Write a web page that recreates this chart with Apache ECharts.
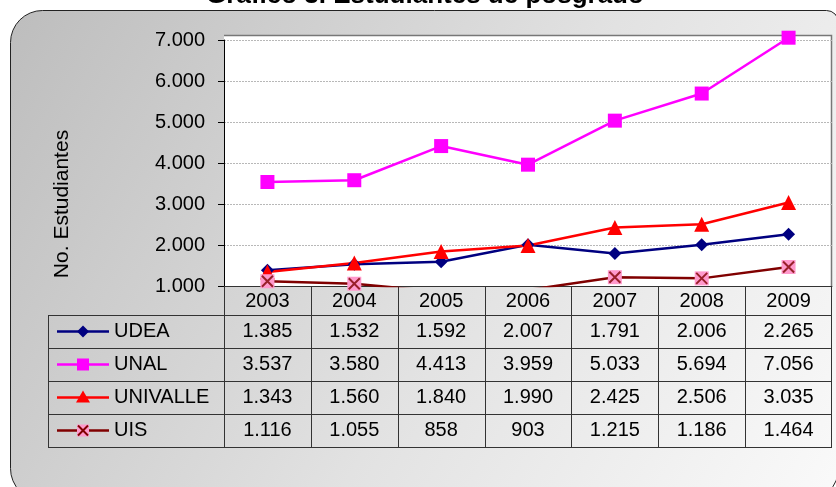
<!DOCTYPE html>
<html>
<head>
<meta charset="utf-8">
<script src="https://cdn.jsdelivr.net/npm/echarts@6/dist/echarts.min.js"></script>
<style>
  html, body { margin: 0; padding: 0; background: #fff; }
  #chart { width: 836px; height: 487px; }
</style>
</head>
<body>
<div id="chart"></div>
<script>
    // datos del grafico
    var years = ['2003', '2004', '2005', '2006', '2007', '2008', '2009'];
    var names = ['UDEA', 'UNAL', 'UNIVALLE', 'UIS'];
    var udea = [1385, 1532, 1592, 2007, 1791, 2006, 2265];
    var unal = [3537, 3580, 4413, 3959, 5033, 5694, 7056];
    var univalle = [1343, 1560, 1840, 1990, 2425, 2506, 3035];
    var uis = [1116, 1055, 858, 903, 1215, 1186, 1464];
    var yTicks = [1000, 2000, 3000, 4000, 5000, 6000, 7000];

    var font = 'Liberation Sans, Arial, sans-serif';
    var lineColors = ['#000080', '#ff00ff', '#ff0000', '#800000'];

    // posiciones de la tabla
    var gLeft = 224, gTop = 40, gWidth = 608, gHeight = 246;
    var colW = gWidth / years.length;
    var tableLeft = 48;
    var headerBottom = 315;
    var rowH = 33;

    function fmt(n) {
        return String(n).replace(/\B(?=(\d{3})+(?!\d))/g, '.');
    }

    var myChart = echarts.init(document.getElementById('chart'));

    var graphics = [];
    // fondo con borde redondeado
    graphics.push({
        type: 'rect', z: -20, silent: true,
        shape: { x: 10.5, y: 10.5, width: 828, height: 490, r: [32, 12, 32, 32] },
        style: {
            fill: new echarts.graphic.LinearGradient(0, 0, 1, 1, [
                { offset: 0, color: '#bdbdbd' },
                { offset: 0.55, color: '#e2e2e2' },
                { offset: 1, color: '#fafafa' }
            ]),
            stroke: '#222', lineWidth: 1
        }
    });
    // area del grafico
    graphics.push({
        type: 'rect', z: -10, silent: true,
        shape: { x: gLeft, y: 35, width: gWidth, height: gTop + gHeight - 35 },
        style: { fill: '#ffffff' }
    });
    graphics.push({
        type: 'polyline', z: -9, silent: true,
        shape: { points: [[gLeft, 35.5], [gLeft + gWidth - 0.5, 35.5], [gLeft + gWidth - 0.5, gTop + gHeight]] },
        style: { stroke: '#777', lineWidth: 1.5, fill: null }
    });
    // titulo (cortado arriba)
    graphics.push({
        type: 'text', silent: true,
        style: {
            text: 'Gráfico 3. Estudiantes de posgrado',
            x: 425, y: -4, align: 'center', verticalAlign: 'middle',
            font: 'bold 26px ' + font, fill: '#000'
        }
    });
    // titulo del eje y
    graphics.push({
        type: 'text', silent: true, rotation: Math.PI / 2,
        x: 62, y: 204,
        style: {
            text: 'No. Estudiantes', x: 0, y: 0,
            align: 'center', verticalAlign: 'middle',
            font: '21px ' + font, fill: '#000'
        }
    });

    // lineas de la tabla
    var tableBottom = headerBottom + rowH * names.length;
    var lineStyle = { stroke: '#333', lineWidth: 1 };
    for (var r = 0; r <= names.length; r++) {
        var yy = headerBottom + r * rowH + 0.5;
        graphics.push({ type: 'line', silent: true, shape: { x1: tableLeft, y1: yy, x2: gLeft + gWidth, y2: yy }, style: lineStyle });
    }
    graphics.push({ type: 'line', silent: true, shape: { x1: tableLeft + 0.5, y1: headerBottom, x2: tableLeft + 0.5, y2: tableBottom }, style: lineStyle });
    for (var c = 0; c <= years.length; c++) {
        var xx = Math.round(gLeft + c * colW) + (c === years.length ? -0.5 : 0.5);
        graphics.push({ type: 'line', silent: true, shape: { x1: xx, y1: gTop + gHeight, x2: xx, y2: tableBottom }, style: lineStyle });
    }

    // valores de la tabla y leyenda
    var rows = [udea, unal, univalle, uis];
    rows.forEach(function(vals, r) {
        var cy = headerBottom + r * rowH + rowH / 2;
        vals.forEach(function(v, c) {
            graphics.push({
                type: 'text', silent: true,
                style: {
                    text: fmt(v), x: gLeft + (c + 0.5) * colW, y: cy,
                    align: 'center', verticalAlign: 'middle',
                    font: '20px ' + font, fill: '#000'
                }
            });
        });
        graphics.push({
            type: 'text', silent: true,
            style: {
                text: names[r], x: 114, y: cy,
                align: 'left', verticalAlign: 'middle',
                font: '20px ' + font, fill: '#000'
            }
        });
        graphics.push({
            type: 'line', silent: true,
            shape: { x1: 57, y1: cy, x2: 109, y2: cy },
            style: { stroke: lineColors[r], lineWidth: 2.5 }
        });
        var mx = 83;
        if (r === 0) {
            graphics.push({ type: 'polygon', silent: true, shape: { points: [[mx, cy - 6], [mx + 6, cy], [mx, cy + 6], [mx - 6, cy]] }, style: { fill: lineColors[0] } });
        } else if (r === 1) {
            graphics.push({ type: 'rect', silent: true, shape: { x: mx - 6, y: cy - 6, width: 12, height: 12 }, style: { fill: lineColors[1] } });
        } else if (r === 2) {
            graphics.push({ type: 'polygon', silent: true, shape: { points: [[mx, cy - 7], [mx + 7, cy + 5], [mx - 7, cy + 5]] }, style: { fill: lineColors[2] } });
        } else {
            graphics.push({ type: 'rect', silent: true, shape: { x: mx - 6, y: cy - 6, width: 12, height: 12 }, style: { fill: '#ff99cc' } });
            graphics.push({ type: 'polyline', silent: true, shape: { points: [[mx - 5, cy - 5], [mx + 5, cy + 5]] }, style: { stroke: '#800000', lineWidth: 2, fill: null } });
            graphics.push({ type: 'polyline', silent: true, shape: { points: [[mx + 5, cy - 5], [mx - 5, cy + 5]] }, style: { stroke: '#800000', lineWidth: 2, fill: null } });
        }
    });

    var option = {
        animation: false,
        backgroundColor: '#ffffff',
        textStyle: { fontFamily: font },
        grid: { left: gLeft, top: gTop, width: gWidth, height: gHeight },
        xAxis: {
            type: 'category',
            data: years,
            boundaryGap: true,
            axisLine: { lineStyle: { color: '#333', width: 1 } },
            axisTick: { show: false },
            axisLabel: { margin: 5, color: '#000', fontSize: 20, fontFamily: font }
        },
        yAxis: {
            type: 'value',
            min: yTicks[0],
            max: yTicks[yTicks.length - 1],
            interval: 1000,
            axisLine: { show: true, lineStyle: { color: '#000', width: 1 } },
            axisTick: { show: true, length: 6, lineStyle: { color: '#000' } },
            axisLabel: {
                margin: 19, color: '#000', fontSize: 20, fontFamily: font,
                formatter: function(v) { return fmt(v); }
            },
            splitLine: { show: true, lineStyle: { color: '#b8b8b8', type: [2, 1], width: 1 } }
        },
        graphic: { elements: graphics },
        series: [
            {
                name: names[0], type: 'line', data: udea,
                symbol: 'diamond', symbolSize: 13,
                lineStyle: { color: lineColors[0], width: 2.5 },
                itemStyle: { color: lineColors[0] }
            },
            {
                name: names[1], type: 'line', data: unal, clip: false,
                symbol: 'rect', symbolSize: 14,
                lineStyle: { color: lineColors[1], width: 2.5 },
                itemStyle: { color: lineColors[1] }
            },
            {
                name: names[2], type: 'line', data: univalle,
                symbol: 'triangle', symbolSize: 15,
                lineStyle: { color: lineColors[2], width: 2.5 },
                itemStyle: { color: lineColors[2] }
            },
            {
                name: names[3], type: 'line', data: uis,
                symbol: 'rect', symbolSize: 14,
                lineStyle: { color: lineColors[3], width: 2.5 },
                itemStyle: { color: '#ff99cc' }
            },
            {
                name: names[3] + '-x', type: 'scatter', data: uis,
                symbol: 'path://M0,0L10,10M10,0L0,10', symbolSize: 11,
                itemStyle: { color: 'rgba(0,0,0,0)', borderColor: '#800000', borderWidth: 2 },
                z: 3
            }
        ]
    };
    myChart.setOption(option);
</script>
</body>
</html>
